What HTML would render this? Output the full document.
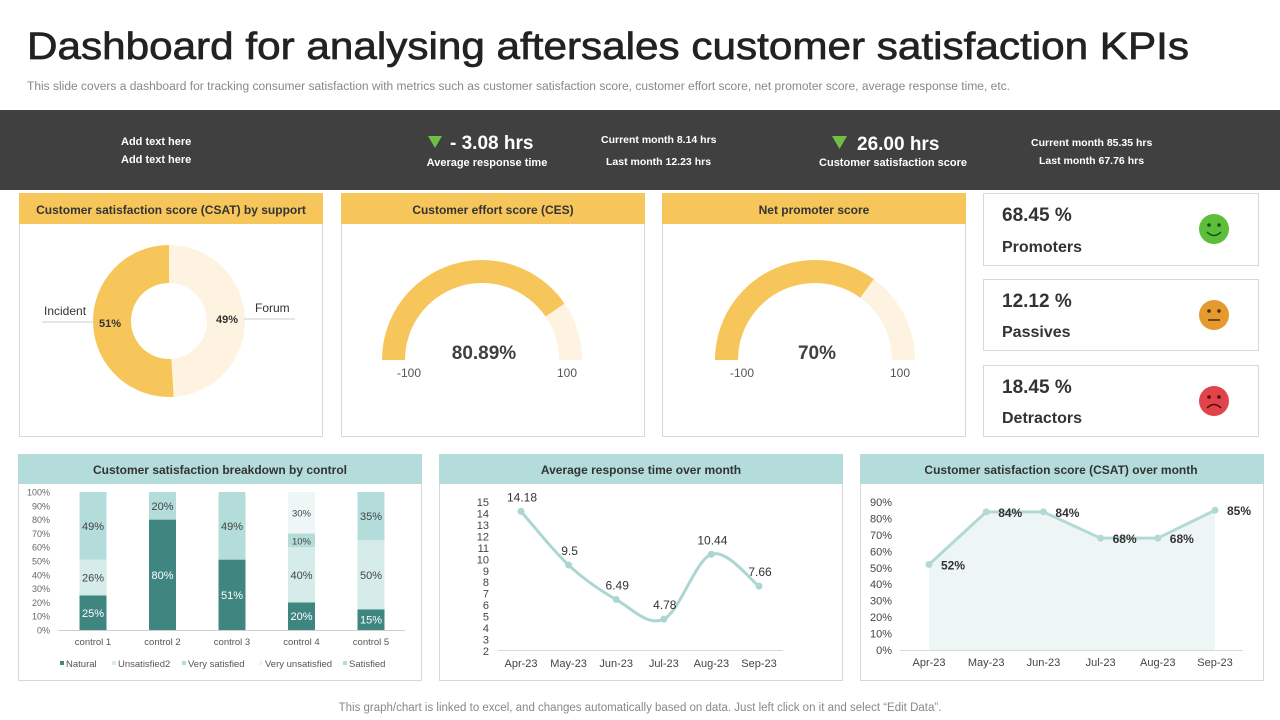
<!DOCTYPE html>
<html><head><meta charset="utf-8"><style>
body{margin:0;background:#fff;width:1280px;height:720px;overflow:hidden;font-family:"Liberation Sans",Arial,sans-serif}
svg{display:block}
text{font-family:"Liberation Sans",Arial,sans-serif}
</style></head><body>
<svg id="s" width="1280" height="720" viewBox="0 0 1280 720">
<text x="27" y="59" font-size="38" fill="#222" stroke="#222" stroke-width="0.7" textLength="1162" lengthAdjust="spacingAndGlyphs">Dashboard for analysing aftersales customer satisfaction KPIs</text>
<text x="27" y="90" font-size="11.5" fill="#888" textLength="983" lengthAdjust="spacingAndGlyphs">This slide covers a dashboard for tracking consumer satisfaction with metrics such as customer satisfaction score, customer effort score, net promoter score, average response time, etc.</text>

<g>
<rect x="0" y="110" width="1280" height="80" fill="#404040"/>
<text x="121" y="145" font-size="11" font-weight="bold" fill="#fff">Add text here</text>
<text x="121" y="163" font-size="11" font-weight="bold" fill="#fff">Add text here</text>
<polygon points="428,136 442,136 435,148" fill="#6fbf44"/>
<text x="450" y="149" font-size="19" font-weight="bold" fill="#fff">- 3.08 hrs</text>
<text x="487" y="166" font-size="11" font-weight="bold" fill="#fff" text-anchor="middle">Average response time</text>
<text x="601" y="143" font-size="10.5" font-weight="bold" fill="#fff">Current month 8.14 hrs</text>
<text x="606" y="165" font-size="10.5" font-weight="bold" fill="#fff">Last month 12.23 hrs</text>
<polygon points="832,136 847,136 839.5,149" fill="#6fbf44"/>
<text x="857" y="150" font-size="19" font-weight="bold" fill="#fff">26.00 hrs</text>
<text x="893" y="166" font-size="11" font-weight="bold" fill="#fff" text-anchor="middle">Customer satisfaction score</text>
<text x="1031" y="146" font-size="10.5" font-weight="bold" fill="#fff">Current month 85.35 hrs</text>
<text x="1039" y="164" font-size="10.5" font-weight="bold" fill="#fff">Last month 67.76 hrs</text>
</g>

<g>
<rect x="19.5" y="193.5" width="303" height="243" fill="#fff" stroke="#d8d8d8"/>
<rect x="19" y="193" width="304" height="31" fill="#f7c65b"/>
<text x="171" y="214" font-size="12" font-weight="bold" fill="#333" text-anchor="middle">Customer satisfaction score (CSAT) by support</text>
<g id="donut"></g>
</g>
<g>
<rect x="341.5" y="193.5" width="303" height="243" fill="#fff" stroke="#d8d8d8"/>
<rect x="341" y="193" width="304" height="31" fill="#f7c65b"/>
<text x="493" y="214" font-size="12" font-weight="bold" fill="#333" text-anchor="middle">Customer effort score (CES)</text>
<g id="g1"></g>
</g>
<g>
<rect x="662.5" y="193.5" width="303" height="243" fill="#fff" stroke="#d8d8d8"/>
<rect x="662" y="193" width="304" height="31" fill="#f7c65b"/>
<text x="814" y="214" font-size="12" font-weight="bold" fill="#333" text-anchor="middle">Net promoter score</text>
<g id="g2"></g>
</g>

<g>
<rect x="983.5" y="193.5" width="275" height="72" fill="#fff" stroke="#d8d8d8"/>
<text x="1002" y="221" font-size="19" font-weight="bold" fill="#333">68.45 %</text>
<text x="1002" y="252" font-size="16" font-weight="bold" fill="#333">Promoters</text>
<circle cx="1214" cy="229" r="15" fill="#5cbf3a"/>
<circle cx="1209" cy="225" r="1.8" fill="#1d4d12"/><circle cx="1219" cy="225" r="1.8" fill="#1d4d12"/>
<path d="M1207 232 Q1214 239 1221 232" stroke="#1d4d12" stroke-width="1.5" fill="none"/>
</g>
<g>
<rect x="983.5" y="279.5" width="275" height="71" fill="#fff" stroke="#d8d8d8"/>
<text x="1002" y="307" font-size="19" font-weight="bold" fill="#333">12.12 %</text>
<text x="1002" y="337" font-size="16" font-weight="bold" fill="#333">Passives</text>
<circle cx="1214" cy="315" r="15" fill="#e59a2e"/>
<circle cx="1209" cy="311" r="1.8" fill="#4a2d05"/><circle cx="1219" cy="311" r="1.8" fill="#4a2d05"/>
<line x1="1208" y1="320" x2="1220" y2="320" stroke="#4a2d05" stroke-width="1.5"/>
</g>
<g>
<rect x="983.5" y="365.5" width="275" height="71" fill="#fff" stroke="#d8d8d8"/>
<text x="1002" y="393" font-size="19" font-weight="bold" fill="#333">18.45 %</text>
<text x="1002" y="423" font-size="16" font-weight="bold" fill="#333">Detractors</text>
<circle cx="1214" cy="401" r="15" fill="#e0444a"/>
<circle cx="1209" cy="397" r="1.8" fill="#4a0a0a"/><circle cx="1219" cy="397" r="1.8" fill="#4a0a0a"/>
<path d="M1207 408 Q1214 401 1221 408" stroke="#4a0a0a" stroke-width="1.5" fill="none"/>
</g>

<g>
<rect x="18.5" y="454.5" width="403" height="226" fill="#fff" stroke="#d8d8d8"/>
<rect x="18" y="454" width="404" height="30" fill="#b3dcdb"/>
<text x="220" y="474" font-size="12" font-weight="bold" fill="#333" text-anchor="middle">Customer satisfaction breakdown by control</text>
<g id="bars"></g>
</g>
<g>
<rect x="439.5" y="454.5" width="403" height="226" fill="#fff" stroke="#d8d8d8"/>
<rect x="439" y="454" width="404" height="30" fill="#b3dcdb"/>
<text x="641" y="474" font-size="12" font-weight="bold" fill="#333" text-anchor="middle">Average response time over month</text>
<g id="line1"></g>
</g>
<g>
<rect x="860.5" y="454.5" width="403" height="226" fill="#fff" stroke="#d8d8d8"/>
<rect x="860" y="454" width="404" height="30" fill="#b3dcdb"/>
<text x="1061" y="474" font-size="12" font-weight="bold" fill="#333" text-anchor="middle">Customer satisfaction score (CSAT) over month</text>
<g id="line2"></g>
</g>

<text x="640" y="711" font-size="11.5" fill="#888" text-anchor="middle">This graph/chart is linked to excel,  and changes automatically based on data. Just left click on it and select “Edit Data”.</text>
</svg>
<script>
const NS='http://www.w3.org/2000/svg';
function el(p,tag,a,txt){const e=document.createElementNS(NS,tag);for(const k in a)e.setAttribute(k,a[k]);if(txt!==undefined)e.textContent=txt;p.appendChild(e);return e;}

const donutLabels=['Incident','Forum'];
const donutValues=[51,49];
const cesValue=80.89;
const npsValue=70;
const controls=['control 1','control 2','control 3','control 4','control 5'];
const seriesNames=['Natural','Unsatisfied2','Very satisfied','Very unsatisfied','Satisfied'];
const natural=[25,80,51,20,15];
const unsatisfied2=[26,0,0,40,50];
const verySatisfied=[0,0,0,10,0];
const veryUnsatisfied=[0,0,0,30,0];
const satisfied=[49,20,49,0,35];
const months=['Apr-23','May-23','Jun-23','Jul-23','Aug-23','Sep-23'];
const responseTimes=[14.18,9.5,6.49,4.78,10.44,7.66];
const responseTicks=[2,3,4,5,6,7,8,9,10,11,12,13,14,15];
const csatMonthly=[52,84,84,68,68,85];
const csatTicks=[0,10,20,30,40,50,60,70,80,90];

(function(){
 const g=document.getElementById('donut');const cx=169,cy=321,R=76,r=38;
 const tot=donutValues.reduce((a,b)=>a+b,0);const cols=['#f7c65b','#fdf3e0'];
 let a0=0;
 donutValues.forEach((v,i)=>{
  const a1=a0+v/tot*2*Math.PI;
  const dir=-1;
  const p=(rad,a)=>[cx+rad*Math.sin(dir*a),cy-rad*Math.cos(dir*a)];
  const [x0,y0]=p(R,a0),[x1,y1]=p(R,a1),[x2,y2]=p(r,a1),[x3,y3]=p(r,a0);
  const lg=(a1-a0)>Math.PI?1:0;
  const s=el(g,'path',{d:`M${x0} ${y0} A${R} ${R} 0 ${lg} 0 ${x1} ${y1} L${x2} ${y2} A${r} ${r} 0 ${lg} 1 ${x3} ${y3}Z`,fill:cols[i]});
  
  
  a0=a1;
 });
 el(g,'line',{x1:42,y1:322,x2:94,y2:322,stroke:'#ccc'});
 el(g,'line',{x1:244,y1:319,x2:295,y2:319,stroke:'#ccc'});
 const t1=el(g,'text',{x:44,y:315,'font-size':12,fill:'#333'},donutLabels[0]);
 
 const t2=el(g,'text',{x:255,y:312,'font-size':12,fill:'#333'},donutLabels[1]);
 
 el(g,'text',{x:99,y:327,'font-size':11,'font-weight':'bold',fill:'#333'},donutValues[0]+'%');
 el(g,'text',{x:216,y:323,'font-size':11,'font-weight':'bold',fill:'#333'},donutValues[1]+'%');
})();

function gauge(id,cx,val,name){
 const g=document.getElementById(id);const cy=360,R=100,r=77;
 const arc=(a0,a1,fill)=>{
  const P=(rad,a)=>[cx-rad*Math.cos(a),cy-rad*Math.sin(a)];
  const [x0,y0]=P(R,a0),[x1,y1]=P(R,a1),[x2,y2]=P(r,a1),[x3,y3]=P(r,a0);
  return el(g,'path',{d:`M${x0} ${y0} A${R} ${R} 0 0 1 ${x1} ${y1} L${x2} ${y2} A${r} ${r} 0 0 0 ${x3} ${y3}Z`,fill});
 };
 const a=Math.PI*val/100;
 const bg=arc(a,Math.PI,'#fdf3e0');
 const fg=arc(0,a,'#f7c65b');
 const t=el(g,'text',{x:cx+2,y:359,'font-size':19,'font-weight':'bold',fill:'#404040','text-anchor':'middle'},(val%1?val.toFixed(2):val)+'%');
 
 el(g,'text',{x:cx-73,y:377,'font-size':12,fill:'#555','text-anchor':'middle'},'-100');
 el(g,'text',{x:cx+85,y:377,'font-size':12,fill:'#555','text-anchor':'middle'},'100');
}
gauge('g1',482,cesValue,'ces');
gauge('g2',815,npsValue,'nps');

(function(){
 const g=document.getElementById('bars');
 const y=v=>630-v*1.38;const x0=58,step=69.5,bw=27;
 const xc=i=>x0+35+i*step;
 for(let t=0;t<=100;t+=10){el(g,'text',{x:50,y:y(t)+3.5,'font-size':9,fill:'#666','text-anchor':'end'},t+'%');}
 el(g,'line',{x1:58,y1:630.5,x2:405,y2:630.5,stroke:'#d0d0d0'});
 const series=[natural,unsatisfied2,verySatisfied,veryUnsatisfied,satisfied];
 const cols=['#3f8681','#d6ecea','#b5dcd9','#eef7f6','#b3dcda'];
 const tcol=['#fff','#444','#444','#444','#444'];
 controls.forEach((c,i)=>{
  let base=0;
  series.forEach((s,k)=>{
   const v=s[i];if(!v)return;
   const r=el(g,'rect',{x:xc(i)-bw/2,y:y(base+v),width:bw,height:v*1.38,fill:cols[k]});
   
   
   el(g,'text',{x:xc(i),y:y(base+v/2)+4,'font-size':v<=10||k===3?9.5:11,fill:tcol[k],'text-anchor':'middle'},v+'%');
   base+=v;
  });
  const l=el(g,'text',{x:xc(i),y:645,'font-size':9.5,fill:'#555','text-anchor':'middle'},c);
  
 });
 const lx=[60,112,182,259,343];
 seriesNames.forEach((n,k)=>{
  const r=el(g,'rect',{x:lx[k],y:661,width:4,height:4,fill:cols[k]});
  
  const t=el(g,'text',{x:lx[k]+6,y:667,'font-size':9.5,fill:'#555'},n);
  
 });
})();

(function(){
 const g=document.getElementById('line1');
 const y=v=>651-(v-2)*(149/13);const x=i=>521+i*47.6;
 responseTicks.forEach(t=>el(g,'text',{x:489,y:y(t)+4,'font-size':11,fill:'#444','text-anchor':'end'},t));
 el(g,'line',{x1:498,y1:650.5,x2:783,y2:650.5,stroke:'#d8d8d8'});
 months.forEach((m,i)=>el(g,'text',{x:x(i),y:667,'font-size':11,fill:'#444','text-anchor':'middle'},m));
 const pts=responseTimes.map((v,i)=>[x(i),y(v)]);
 let d=`M${pts[0][0]} ${pts[0][1]}`;
 for(let i=0;i<pts.length-1;i++){
  const p0=pts[Math.max(0,i-1)],p1=pts[i],p2=pts[i+1],p3=pts[Math.min(pts.length-1,i+2)];
  const c1=[p1[0]+(p2[0]-p0[0])/6,p1[1]+(p2[1]-p0[1])/6],c2=[p2[0]-(p3[0]-p1[0])/6,p2[1]-(p3[1]-p1[1])/6];
  d+=` C${c1[0]} ${c1[1]} ${c2[0]} ${c2[1]} ${p2[0]} ${p2[1]}`;
 }
 const ln=el(g,'path',{d,fill:'none',stroke:'#acd6d4','stroke-width':3});
 
 pts.forEach((p,i)=>{
  const c=el(g,'circle',{cx:p[0],cy:p[1],r:3.5,fill:'#acd6d4'});
  
  el(g,'text',{x:p[0]+1,y:p[1]-10,'font-size':12,fill:'#333','text-anchor':'middle'},responseTimes[i]);
 });
})();

(function(){
 const g=document.getElementById('line2');
 const y=v=>650-v*(148/90);const x=i=>929+i*57.2;
 csatTicks.forEach(t=>el(g,'text',{x:892,y:y(t)+4,'font-size':11,fill:'#444','text-anchor':'end'},t+'%'));
 const pts=csatMonthly.map((v,i)=>[x(i),y(v)]);
 const area=el(g,'path',{d:'M'+pts.map(p=>p.join(' ')).join(' L')+` L${x(5)} ${y(0)} L${x(0)} ${y(0)}Z`,fill:'#eef6f5'});
 
 el(g,'line',{x1:900,y1:650.5,x2:1243,y2:650.5,stroke:'#d8d8d8'});
 months.forEach((m,i)=>el(g,'text',{x:x(i),y:666,'font-size':11,fill:'#444','text-anchor':'middle'},m));
 const ln=el(g,'polyline',{points:pts.map(p=>p.join(',')).join(' '),fill:'none',stroke:'#b3d9d7','stroke-width':3});
 
 pts.forEach((p,i)=>{
  const c=el(g,'circle',{cx:p[0],cy:p[1],r:3.5,fill:'#b3d9d7'});
  
  el(g,'text',{x:p[0]+12,y:p[1]+5,'font-size':12,'font-weight':'bold',fill:'#333'},csatMonthly[i]+'%');
 });
})();
</script>
</body></html>
